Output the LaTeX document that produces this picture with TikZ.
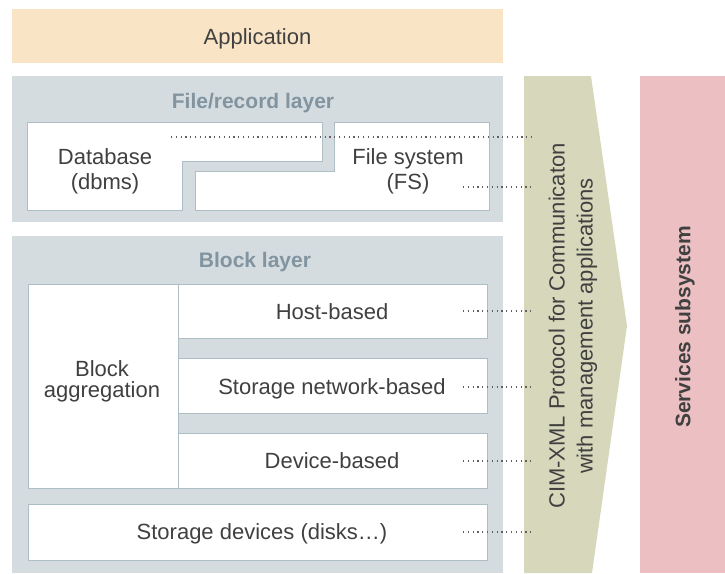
\documentclass[tikz,border=0pt]{standalone}
\usepackage{fontspec}
\setmainfont{Liberation Sans}
\definecolor{appfill}{HTML}{F9E5C6}
\definecolor{layerfill}{HTML}{D4DCE0}
\definecolor{boxline}{HTML}{AEBEC6}
\definecolor{titlecol}{HTML}{8294A0}
\definecolor{textcol}{HTML}{404040}
\definecolor{cimfill}{HTML}{D6D7BB}
\definecolor{svcfill}{HTML}{ECC0C3}
\definecolor{dotcol}{HTML}{606060}
\begin{document}
\begin{tikzpicture}[x=1pt,y=-1pt,
  every node/.style={inner sep=0pt, text=textcol, align=center,
    font=\fontsize{22}{25}\selectfont},
  layer/.style={fill=layerfill, draw=none},
  whitebox/.style={fill=white, draw=boxline, line width=0.9pt},
  layertitle/.style={text=titlecol, font=\fontsize{21}{24}\selectfont\bfseries},
  dotline/.style={draw=dotcol, line width=1.1pt, dash pattern=on 1.1pt off 3.7pt}]
\useasboundingbox (0,0) rectangle (725,573);

% application band
\fill[appfill] (12,9) rectangle (503,63);
\node (app) at (257.5,39) {Application};

% file/record layer
\fill[layer] (12,76) rectangle (503,222);
\node[layertitle] (filetitle) at (253,103) {File/record layer};
\draw[whitebox] (27,122) -- (322,122) -- (322,161) -- (182,161) -- (182,210) -- (27,210) -- cycle;
\draw[whitebox] (334,122) -- (489,122) -- (489,210) -- (195,210) -- (195,171) -- (334,171) -- cycle;
\node (db) at (105,171) {Database\\(dbms)};
\node (fs) at (408,171) {File system\\(FS)};

% block layer
\fill[layer] (12,236) rectangle (503,573);
\node[layertitle] (blocktitle) at (255,262) {Block layer};
\draw[whitebox] (28,284) rectangle (178,488);
\node[font=\fontsize{22}{21}\selectfont] (agg) at (102,381) {Block\\aggregation};
\draw[whitebox] (178,284) rectangle (487,338);
\node (host) at (332,312) {Host-based};
\draw[whitebox] (178,358) rectangle (487,413);
\node (net) at (332,389) {Storage network-based};
\draw[whitebox] (178,433) rectangle (487,488);
\node (dev) at (332,461) {Device-based};
\draw[whitebox] (28,504) rectangle (487,560);
\node (disks) at (262,534) {Storage devices (disks\ldots)};

% CIM-XML arrow and services column
\fill[cimfill] (524,76) -- (591,76) -- (627,326) -- (592,573) -- (524,573) -- cycle;
\node[rotate=90, font=\fontsize{22}{28}\selectfont] (cim) at (573,326) {CIM-XML Protocol for Communicaton\\with management applications};
\fill[svcfill] (640,76) rectangle (725,573);
\node[rotate=90, font=\fontsize{21}{25}\selectfont\bfseries] (svc) at (685,327) {Services subsystem};

% dotted links into the protocol arrow
\coordinate (cimin) at (533,0);
\coordinate (dbdot) at (171,137);
\coordinate (fsdot) at (463,187);
\coordinate (hostdot) at (463,311);
\coordinate (netdot) at (463,387);
\coordinate (devdot) at (463,461);
\coordinate (diskdot) at (463,532);
\foreach \p in {dbdot,fsdot,hostdot,netdot,devdot,diskdot}
  \draw[dotline] (\p) -- (\p -| cimin);
\end{tikzpicture}
\end{document}
